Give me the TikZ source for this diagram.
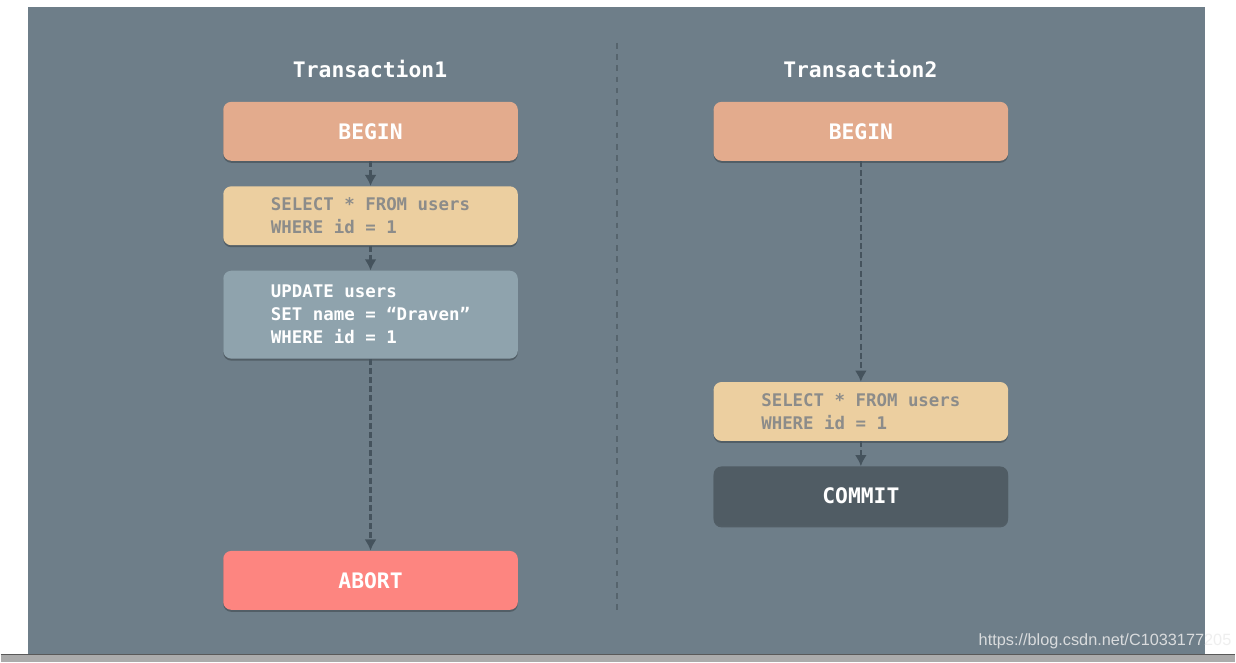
\documentclass[tikz,border=0pt]{standalone}
\usepackage{fontspec}
\setmonofont{DejaVu Sans Mono}
\setsansfont{Liberation Sans}
\usetikzlibrary{arrows.meta,positioning,shadows}

\definecolor{slate}{HTML}{6E7E89}
\definecolor{beginc}{HTML}{E3AB8D}
\definecolor{selectc}{HTML}{ECCFA0}
\definecolor{updatec}{HTML}{8FA3AD}
\definecolor{abortc}{HTML}{FD8580}
\definecolor{commitc}{HTML}{505C64}
\definecolor{sqltext}{HTML}{8C8C8A}
\definecolor{flowc}{HTML}{45535D}
\definecolor{dividerc}{HTML}{56646D}

\begin{document}
\begin{tikzpicture}[
    >={Latex[width=0.3cm,length=0.28cm]},
    node distance=0.625cm,
    block/.style={
		rectangle,
		rounded corners=0.2cm,
		minimum width=7.375cm,
		minimum height=1.475cm,
		inner sep=0pt,
		drop shadow={shadow xshift=0cm, shadow yshift=-0.05cm, fill=black, opacity=0.25}
	},
	word/.style={
		font=\ttfamily\bfseries\fontsize{15.2}{18}\selectfont,
		text=white
	},
	query/.style={
		font=\ttfamily\bfseries\fontsize{12.4}{16.4}\selectfont,
		align=left
	},
	trans/.style={
		font=\ttfamily\bfseries\fontsize{15.2}{18}\selectfont,
		text=white
	},
	flow/.style={
		draw=flowc,
		line width=1.5pt,
		dash pattern=on 4.3pt off 2.2pt
	}
  ]
    % page and backdrop
  \fill [white] (0,0) rectangle (30.9,-16.575);
  \fill [slate] (0.675,-0.175) rectangle (30.15,-16.375);
  \fill [black!33] (0,-16.375) rectangle (30.9,-16.575);
  \draw [black!65, line width=0.8pt] (0,-16.39) -- (30.9,-16.39);

  % the two columns
  \node [trans] (title1) at (9.25,-1.725) {Transaction1};
  \node [trans] (title2) at (21.525,-1.725) {Transaction2};
  \coordinate (divtop) at (15.425,-1.075);
  \coordinate (divbot) at (15.425,-15.325);
  \draw [dividerc, line width=1.5pt, dash pattern=on 4pt off 4pt] (divtop) -- (divbot);

  % Transaction1
  \node [block, fill=beginc, word] (begin1) at (9.2625,-3.2875) {BEGIN};
  \node [block, fill=selectc, query, text=sqltext, below=of begin1] (select1)
 {SELECT * FROM users\\WHERE id = 1};
  \node [block, fill=updatec, query, text=white, minimum height=2.2cm, below=of select1] (update1)
 {UPDATE users\\SET name = “Draven”\\WHERE id = 1};
  \node [block, fill=abortc, word, below=4.8cm of update1] (abort1) {ABORT};

  % Transaction2
  \node [block, fill=beginc, word] (begin2) at (21.5375,-3.2875) {BEGIN};
  \node [block, fill=selectc, query, text=sqltext, below=5.525cm of begin2] (select2)
 {SELECT * FROM users\\WHERE id = 1};
  \node [block, fill=commitc, word, below=of select2] (commit2) {COMMIT};

  \draw [flow,->] (begin1) -- (select1);
  \draw [flow,->] (select1) -- (update1);
  \draw [flow,->] (update1) -- (abort1);
  \draw [flow,->] (begin2) -- (select2);
  \draw [flow,->] (select2) -- (commit2);

  \node [font=\sffamily\fontsize{11.6}{14}\selectfont, text=white!85!gray, opacity=0.85] (mark) at (27.65,-16.05) {https://blog.csdn.net/C1033177205};

\end{tikzpicture}
\end{document}
